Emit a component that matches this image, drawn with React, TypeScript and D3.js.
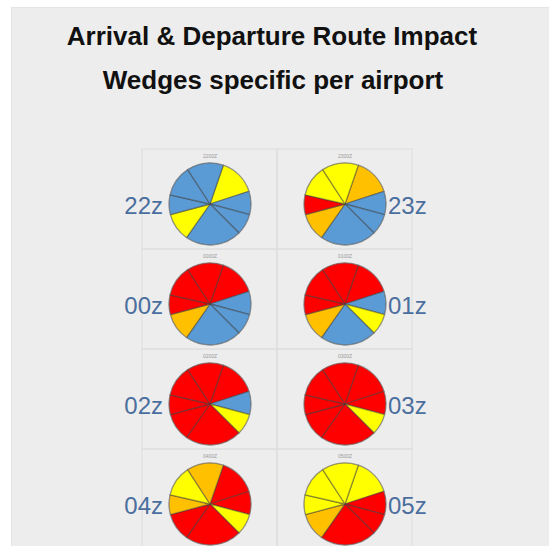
import React from "react";
import * as d3 from "d3";

// Wedge sizes in degrees, clockwise starting at 19° from north
const wedgeSpans = [53, 33, 30, 80, 40, 28, 44, 52];
const wedgeStartDeg = 19;

const hours = ["22z", "23z", "00z", "01z", "02z", "03z", "04z", "05z"];
const tinyLabels = ["2200Z", "2300Z", "0000Z", "0100Z", "0200Z", "0300Z", "0400Z", "0500Z"];

// Impact category per wedge: B = none (blue), Y = low, O = moderate, R = high
const impact22 = ["Y", "B", "B", "B", "Y", "B", "B", "B"];
const impact23 = ["O", "B", "B", "B", "O", "R", "Y", "Y"];
const impact00 = ["R", "B", "B", "B", "O", "R", "R", "R"];
const impact01 = ["R", "B", "Y", "B", "O", "R", "R", "R"];
const impact02 = ["R", "B", "Y", "R", "R", "R", "R", "R"];
const impact03 = ["R", "R", "Y", "R", "R", "R", "R", "R"];
const impact04 = ["R", "R", "Y", "R", "R", "O", "Y", "O"];
const impact05 = ["Y", "R", "R", "R", "O", "Y", "Y", "Y"];
const impacts = [impact22, impact23, impact00, impact01, impact02, impact03, impact04, impact05];

const colorMap: Record<string, string> = {
  B: "#5B9BD5",
  Y: "#FFFF00",
  O: "#FFC000",
  R: "#FF0000",
};

export default function App() {
  const W = 549;
  const H = 546;
  const gridX0 = 142;
  const gridY0 = 149;
  const cellW = 135;
  const cellH = 100;
  const r = 41;

  const pie = d3
    .pie<number>()
    .sort(null)
    .value((d) => d)
    .startAngle((wedgeStartDeg * Math.PI) / 180)
    .endAngle(((wedgeStartDeg + 360) * Math.PI) / 180);
  const arcs = pie(wedgeSpans);
  const arc = d3.arc<d3.PieArcDatum<number>>().innerRadius(0).outerRadius(r);

  return (
    <svg
      width={W}
      height={H}
      style={{ position: "absolute", left: 0, top: 0, display: "block" }}
      fontFamily="'Liberation Sans', Arial, sans-serif"
    >
      <rect x={0} y={0} width={W} height={H} fill="#ffffff" />
      <rect x={11} y={7} width={W} height={H} fill="#e4e4e4" />
      <rect x={12} y={8} width={W} height={H} fill="#ededed" />
      <text x={272} y={45} textAnchor="middle" fontSize={26} fontWeight="bold" fill="#111">
        Arrival &amp; Departure Route Impact
      </text>
      <text x={273} y={89} textAnchor="middle" fontSize={26} fontWeight="bold" fill="#111">
        Wedges specific per airport
      </text>

      {/* grid cells */}
      {[0, 1, 2, 3].map((row) =>
        [0, 1].map((col) => (
          <rect
            key={`c${row}-${col}`}
            x={gridX0 + col * cellW}
            y={gridY0 + row * cellH}
            width={cellW}
            height={cellH}
            fill="none"
            stroke="#dddddd"
            strokeWidth={1}
          />
        ))
      )}

      {hours.map((h, i) => {
        const row = Math.floor(i / 2);
        const col = i % 2;
        const cx = gridX0 + col * cellW + 68;
        const cy = gridY0 + row * cellH + 55;
        const imp = impacts[i];
        return (
          <g key={h}>
            <text x={cx} y={cy - r - 5} textAnchor="middle" fontSize={5} fill="#999">
              {tinyLabels[i]}
            </text>
            <g transform={`translate(${cx},${cy})`}>
              {arcs.map((a, j) => (
                <path
                  key={j}
                  d={arc(a) || ""}
                  fill={colorMap[imp[j]]}
                  stroke="#3a3a3a"
                  strokeOpacity={0.45}
                  strokeWidth={1.3}
                  strokeLinejoin="round"
                />
              ))}
              <circle r={r} fill="none" stroke="#8a8a8a" strokeOpacity={0.6} strokeWidth={0.8} />
            </g>
            <text
              x={col === 0 ? cx - r - 6 : cx + r + 2}
              y={cy + 10}
              textAnchor={col === 0 ? "end" : "start"}
              fontSize={24}
              fill="#4A6E9E"
            >
              {h}
            </text>
          </g>
        );
      })}
    </svg>
  );
}
